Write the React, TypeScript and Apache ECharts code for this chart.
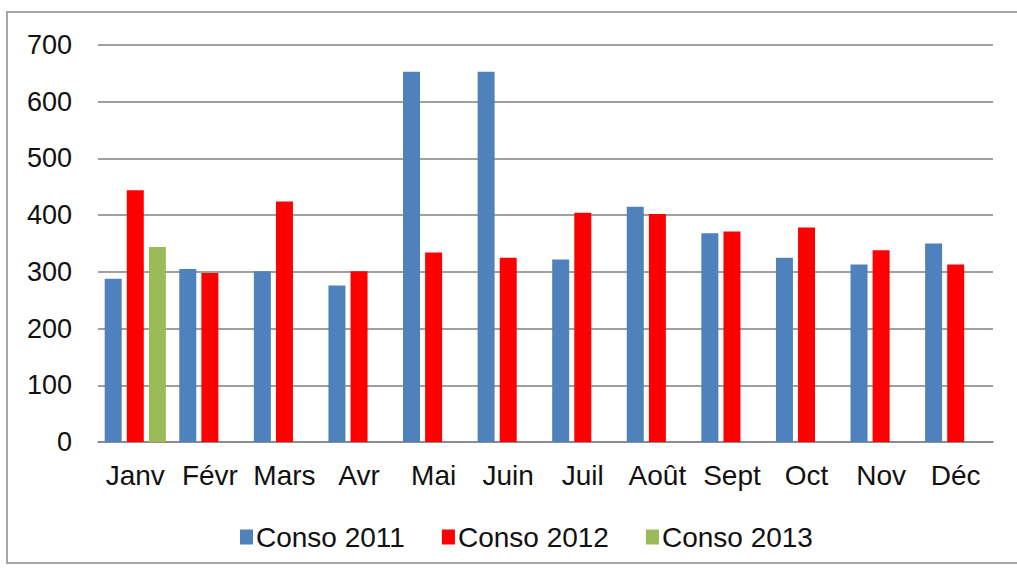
import React, { useEffect, useRef } from "react";
import * as echarts from "echarts";

const categories = ["Janv", "Févr", "Mars", "Avr", "Mai", "Juin", "Juil", "Août", "Sept", "Oct", "Nov", "Déc"];
const conso2011 = [288, 305, 301, 276, 653, 653, 322, 415, 368, 325, 313, 350];
const conso2012 = [444, 298, 424, 301, 334, 325, 404, 402, 371, 378, 338, 313];
const conso2013 = [344, null, null, null, null, null, null, null, null, null, null, null];
const seriesNames = ["Conso 2011", "Conso 2012", "Conso 2013"];
const colors = ["#4F81BD", "#FF0000", "#9BBB59"];

const FONT = "'Liberation Sans', Arial, sans-serif";

export default function App() {
  const ref = useRef<HTMLDivElement>(null);
  useEffect(() => {
    if (!ref.current) return;
    const chart = echarts.init(ref.current, undefined, { renderer: "svg" });
    const data = [conso2011, conso2012, conso2013];
    chart.setOption({
      animation: false,
      backgroundColor: "#ffffff",
      textStyle: { fontFamily: FONT },
      graphic: [
        {
          type: "rect",
          shape: { x: 7, y: 12, width: 1040, height: 551 },
          style: { fill: "none", stroke: "#8a8a8a", lineWidth: 1.5 },
          silent: true,
        },
      ],
      grid: { left: 98, right: 24, top: 45, bottom: 129, containLabel: false },
      legend: {
        left: 235,
        top: 518,
        itemWidth: 13,
        itemHeight: 15,
        itemGap: 37,
        icon: "rect",
        textStyle: { fontSize: 28, color: "#111", fontFamily: FONT, padding: [0, 0, 0, -2] },
        data: seriesNames,
      },
      xAxis: {
        type: "category",
        data: categories,
        axisLine: { lineStyle: { color: "#868686", width: 1.5 } },
        axisTick: { show: false },
        axisLabel: { fontSize: 28, color: "#111", margin: 19, fontFamily: FONT, interval: 0 },
      },
      yAxis: {
        type: "value",
        min: 0,
        max: 700,
        interval: 100,
        axisLine: { show: false },
        axisTick: { show: false },
        axisLabel: { fontSize: 27, color: "#111", margin: 26, fontFamily: FONT },
        splitLine: { lineStyle: { color: "#7f7f7f", width: 1.5 } },
      },
      series: seriesNames.map((name, i) => ({
        name,
        type: "bar",
        data: data[i],
        barWidth: 17,
        barGap: "30%",
        itemStyle: { color: colors[i] },
      })),
    });
    return () => chart.dispose();
  }, []);
  return (
    <div
      ref={ref}
      style={{ position: "absolute", left: 0, top: 0, width: 1017, height: 571 }}
    />
  );
}
